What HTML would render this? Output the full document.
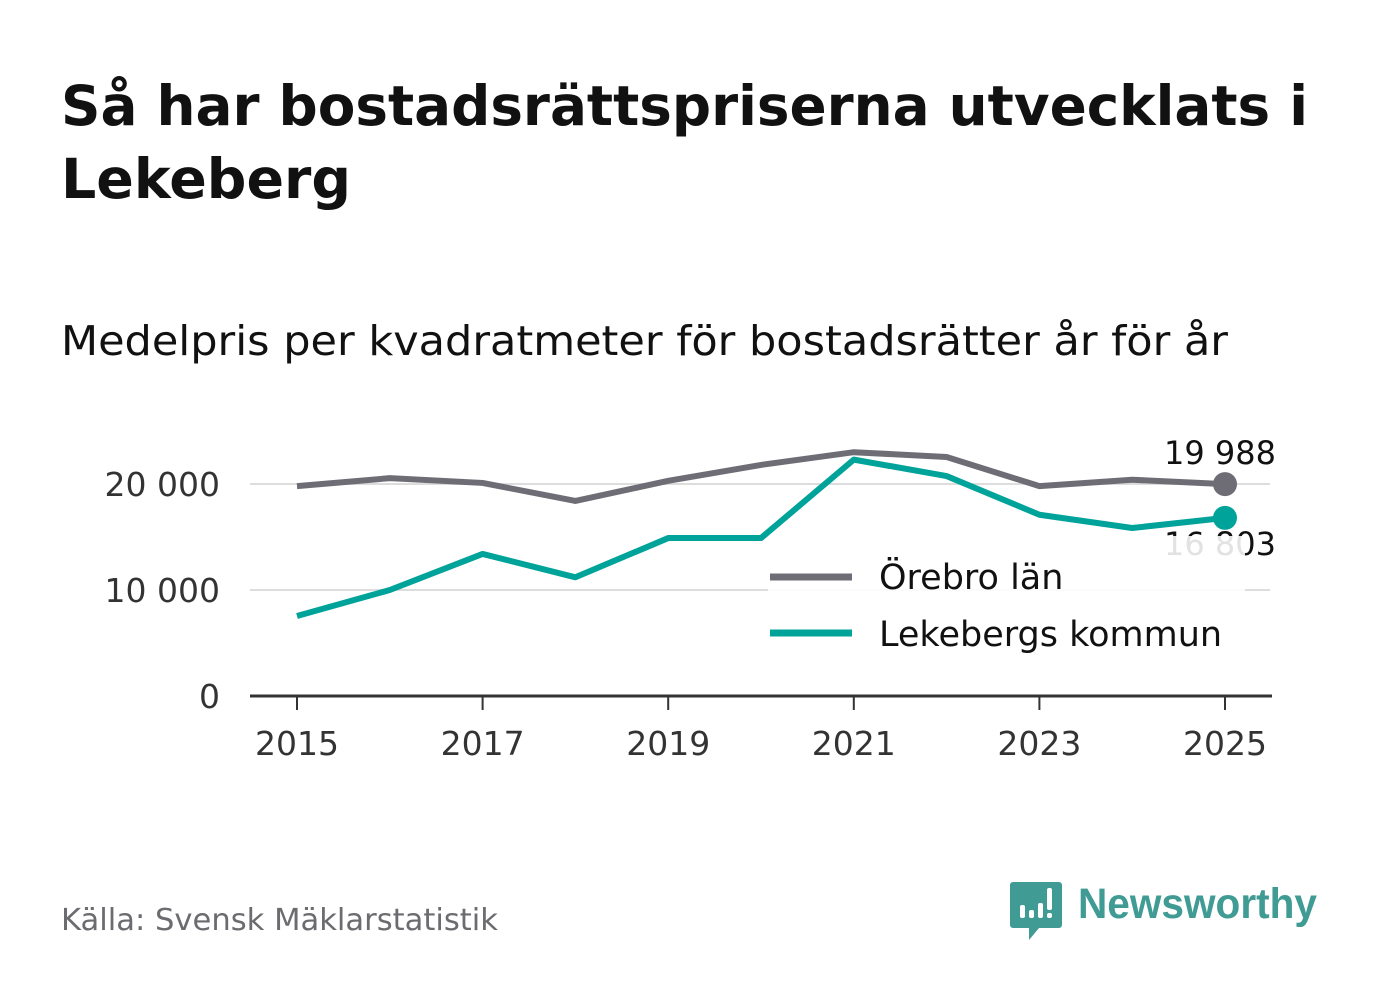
<!DOCTYPE html>
<html><head><meta charset="utf-8"><style>
body{margin:0;background:#fff;width:1382px;height:999px;overflow:hidden;font-family:"DejaVu Sans","Liberation Sans",sans-serif;}
</style></head><body>
<svg width="1382" height="999" xmlns="http://www.w3.org/2000/svg">
<text x="61" y="125" font-size="55" font-weight="bold" fill="#111" textLength="1247" lengthAdjust="spacingAndGlyphs">Så har bostadsrättspriserna utvecklats i</text>
<text x="61" y="198" font-size="55" font-weight="bold" fill="#111" textLength="290" lengthAdjust="spacingAndGlyphs">Lekeberg</text>
<text x="61" y="355" font-size="41" fill="#111" textLength="1167" lengthAdjust="spacingAndGlyphs">Medelpris per kvadratmeter för bostadsrätter år för år</text>
<g id="grid"></g>
<g id="plot"></g>
<text x="61" y="930" font-size="30" fill="#6b6b70" textLength="437" lengthAdjust="spacingAndGlyphs">Källa: Svensk Mäklarstatistik</text>
<g>
<path d="M1013 882 h46 a3 3 0 0 1 3 3 v40 a3 3 0 0 1 -3 3 h-20 l-10 12 v-12 h-16 a3 3 0 0 1 -3 -3 v-40 a3 3 0 0 1 3 -3z" fill="#3f9b93"/>
<rect x="1020" y="905" width="5" height="13" rx="2" fill="#fff"/>
<rect x="1029" y="910" width="5" height="8" rx="2" fill="#fff"/>
<rect x="1038" y="903" width="5" height="15" rx="2" fill="#fff"/>
<rect x="1047" y="888" width="5" height="22" rx="2" fill="#fff"/>
<rect x="1047" y="913" width="5" height="5" rx="2" fill="#fff"/>
<text x="1078" y="918" font-size="43" font-weight="bold" fill="#3f9b93" font-family="Liberation Sans, sans-serif" textLength="239" lengthAdjust="spacingAndGlyphs">Newsworthy</text>
</g>
</svg>
<script>
const years=[2015,2016,2017,2018,2019,2020,2021,2022,2023,2024,2025];
const orebro=[19800,20550,20100,18400,20300,21800,23000,22550,19800,20400,19988];
const lekeberg=[7550,10000,13400,11200,14900,14900,22300,20750,17100,15850,16803];
const yTicks=[0,10000,20000];
const yTickLabels=["0","10 000","20 000"];
const xTicks=[2015,2017,2019,2021,2023,2025];
const NS="http://www.w3.org/2000/svg";
const x=v=>297+(v-2015)*92.8;
const y=v=>696-v*0.0106;
function mk(t,a,p){const e=document.createElementNS(NS,t);for(const k in a)e.setAttribute(k,a[k]);p.appendChild(e);return e;}
const g=document.getElementById('grid'),p=document.getElementById('plot');
yTicks.forEach((t,i)=>{
 if(t>0){const l=mk('line',{x1:250,x2:1270,y1:y(t),y2:y(t),stroke:'#ddd','stroke-width':2},g);
 
 }
 const tx=mk('text',{x:220,y:y(t)+12,'text-anchor':'end','font-size':33,fill:'#333'},g);tx.textContent=yTickLabels[i];
 
 
});
const ax=mk('line',{x1:250,x2:1272,y1:696,y2:696,stroke:'#333','stroke-width':3},g);


xTicks.forEach(t=>{
 mk('line',{x1:x(t),x2:x(t),y1:696,y2:710,stroke:'#333','stroke-width':2},g);
 const tx=mk('text',{x:x(t),y:755,'text-anchor':'middle','font-size':33,fill:'#333'},g);tx.textContent=t;
 
 
});
function series(vals,col,name){
 const pl=mk('polyline',{points:vals.map((v,i)=>x(years[i])+','+y(v)).join(' '),fill:'none',stroke:col,'stroke-width':6,'stroke-linejoin':'round'},p);
 
 
 const n=vals.length-1;
 const c=mk('circle',{cx:x(years[n]),cy:y(vals[n]),r:12,fill:col},p);
 
 
}
series(orebro,'#6e6d75','orebro');
series(lekeberg,'#00a399','lekeberg');
const fmt=v=>String(v).replace(/\B(?=(\d{3})+(?!\d))/g,' ');
let l1=mk('text',{x:1276,y:y(orebro[10])-20,'text-anchor':'end','font-size':32,fill:'#111'},p);l1.textContent=fmt(orebro[10]);


let l2=mk('text',{x:1276,y:y(lekeberg[10])+37,'text-anchor':'end','font-size':32,fill:'#111'},p);l2.textContent=fmt(lekeberg[10]);


const lg=mk('g',{},p);


mk('rect',{x:768,y:536,width:477,height:126,fill:'#fff','fill-opacity':0.88},lg);
mk('line',{x1:770,x2:852,y1:577,y2:577,stroke:'#6e6d75','stroke-width':7},lg);
mk('line',{x1:770,x2:852,y1:633,y2:633,stroke:'#00a399','stroke-width':7},lg);
let t1=mk('text',{x:879,y:589,'font-size':35,fill:'#111'},lg);t1.textContent='Örebro län';


let t2=mk('text',{x:879,y:646,'font-size':35,fill:'#111'},lg);t2.textContent='Lekebergs kommun';


</script>
</body></html>
